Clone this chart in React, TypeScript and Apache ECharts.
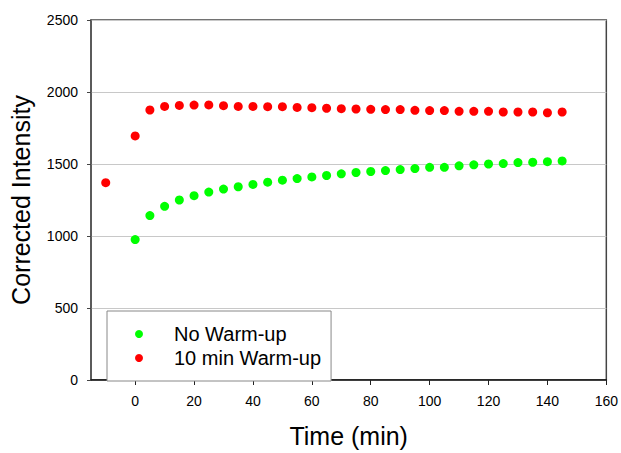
import React, { useEffect, useRef } from 'react';
import * as echarts from 'echarts';

// time (min) and corrected intensity
const noWarmTime = [0, 5, 10, 15, 20, 25, 30, 35, 40, 45, 50, 55, 60, 65, 70, 75, 80, 85, 90, 95, 100, 105, 110, 115, 120, 125, 130, 135, 140, 145];
const noWarmValues = [975, 1142, 1206, 1250, 1280, 1305, 1326, 1342, 1358, 1374, 1388, 1399, 1410, 1420, 1432, 1441, 1448, 1454, 1461, 1468, 1477, 1477, 1487, 1494, 1500, 1503, 1510, 1512, 1516, 1521];

const warmTime = [-10, 0, 5, 10, 15, 20, 25, 30, 35, 40, 45, 50, 55, 60, 65, 70, 75, 80, 85, 90, 95, 100, 105, 110, 115, 120, 125, 130, 135, 140, 145];
const warmValues = [1370, 1695, 1875, 1900, 1907, 1909, 1910, 1905, 1900, 1900, 1898, 1898, 1893, 1891, 1887, 1884, 1882, 1880, 1878, 1878, 1873, 1871, 1871, 1866, 1866, 1866, 1861, 1861, 1861, 1856, 1861];

const xTicks = [0, 20, 40, 60, 80, 100, 120, 140, 160];

const FONT = '"Liberation Sans", Arial, sans-serif';

const App = () => {
  const chartRef = useRef<HTMLDivElement>(null);

  useEffect(() => {
    const chart = echarts.init(chartRef.current!, null, { renderer: 'svg' });

    const options = {
      animation: false,
      textStyle: { fontFamily: FONT },
      grid: {
        left: 91,
        top: 20,
        right: 14,
        bottom: 70,
        show: true,
        borderColor: '#444',
        borderWidth: 1.5,
        backgroundColor: 'transparent',
      },
      legend: {
        orient: 'vertical',
        left: 107,
        top: 311,
        padding: [13, 10, 13, 28],
        itemGap: 4,
        itemWidth: 8,
        itemHeight: 8,
        backgroundColor: '#fff',
        borderColor: '#888',
        borderWidth: 1,
        textStyle: { fontSize: 20, color: '#000', fontFamily: FONT, padding: [0, 0, 0, 26] },
        data: [
          { name: 'No Warm-up', icon: 'circle' },
          { name: '10 min Warm-up', icon: 'circle' },
        ],
      },
      xAxis: {
        type: 'value',
        min: -15,
        max: 160,
        name: 'Time (min)',
        nameLocation: 'middle',
        nameGap: 43,
        nameTextStyle: { fontSize: 25, color: '#000', fontFamily: FONT },
        axisLine: { show: true, onZero: false, lineStyle: { color: '#111', width: 1.5 } },
        axisTick: { show: true, length: 5, customValues: xTicks, lineStyle: { color: '#222' } },
        axisLabel: { customValues: xTicks, fontSize: 14, color: '#000', margin: 14 },
        splitLine: { show: false },
      },
      yAxis: {
        type: 'value',
        min: 0,
        max: 2500,
        interval: 500,
        name: 'Corrected Intensity',
        nameLocation: 'middle',
        nameGap: 58,
        nameTextStyle: { fontSize: 25, color: '#000', fontFamily: FONT },
        axisLine: { show: true, onZero: false, lineStyle: { color: '#555', width: 1.5 } },
        axisTick: { show: true, length: 4, lineStyle: { color: '#444' } },
        axisLabel: { fontSize: 14, color: '#000', margin: 13, formatter: (v: number) => String(v) },
        splitLine: { show: true, lineStyle: { color: '#c8c8c8', width: 1 } },
      },
      series: [
        {
          name: 'No Warm-up',
          type: 'scatter',
          symbol: 'circle',
          symbolSize: 9,
          itemStyle: { color: '#00ff00', opacity: 1 },
          data: noWarmTime.map((t, i) => [t, noWarmValues[i]]),
        },
        {
          name: '10 min Warm-up',
          type: 'scatter',
          symbol: 'circle',
          symbolSize: 9,
          itemStyle: { color: '#ff0000', opacity: 1 },
          data: warmTime.map((t, i) => [t, warmValues[i]]),
        },
      ],
    };

    chart.setOption(options);

    return () => {
      chart.dispose();
    };
  }, []);

  return (
    <div
      ref={chartRef}
      style={{ position: 'fixed', left: 0, top: 0, width: '621px', height: '453px', background: '#fff' }}
    ></div>
  );
};

export default App;
